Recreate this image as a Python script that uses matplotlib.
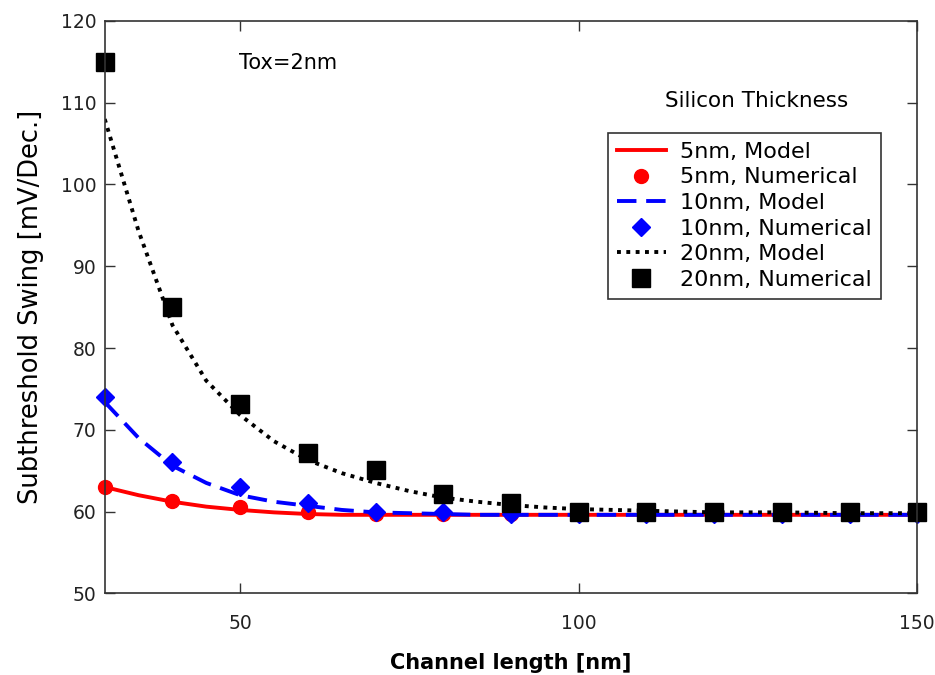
import matplotlib

matplotlib.use("Agg")
import matplotlib.pyplot as plt

plt.rcParams["font.family"] = ["DejaVu Sans"]

# channel length [nm]
L_num = [30, 40, 50, 60, 70, 80, 90, 100, 110, 120, 130, 140, 150]
L_model = [30, 35, 40, 45, 50, 55, 60, 65, 70, 75, 80, 85, 90, 95, 100, 110, 120, 130, 140, 150]

# numerical (markers)
ss_5nm_num = [63.0, 61.3, 60.5, 59.9, 59.7, 59.7, 59.7, 59.7, 59.7, 59.7, 59.7, 59.7, 59.7]
ss_10nm_num = [74.0, 66.1, 63.0, 61.0, 60.0, 59.9, 59.7, 59.7, 59.7, 59.7, 59.7, 59.7, 59.7]
ss_20nm_num = [115.0, 85.0, 73.1, 67.1, 65.1, 62.2, 61.0, 60.0, 60.0, 60.0, 60.0, 60.0, 60.0]

# model (lines)
ss_5nm_model = [63.0, 62.0, 61.2, 60.6, 60.2, 59.9, 59.7, 59.6, 59.6, 59.6, 59.6, 59.6, 59.6,
                59.6, 59.6, 59.6, 59.6, 59.6, 59.6, 59.6]
ss_10nm_model = [73.4, 69.0, 65.6, 63.5, 62.0, 61.2, 60.7, 60.2, 59.9, 59.8, 59.7, 59.6, 59.6,
                 59.6, 59.6, 59.6, 59.6, 59.6, 59.6, 59.6]
ss_20nm_model = [108.0, 94.3, 82.8, 76.0, 71.8, 68.6, 66.3, 64.7, 63.5, 62.5, 61.7, 61.2, 60.8,
                 60.5, 60.3, 60.1, 59.9, 59.9, 59.8, 59.8]

fig = plt.figure(figsize=(9.35, 6.75), dpi=100)
ax = fig.add_axes([0.112, 0.121, 0.869, 0.848])

ax.plot(L_model, ss_5nm_model, "-", color="red", linewidth=2.8, label="5nm, Model")
ax.plot(L_num, ss_5nm_num, "o", color="red", markersize=10, clip_on=False,
        label="5nm, Numerical")
ax.plot(L_model, ss_10nm_model, "--", color="blue", linewidth=2.8, dashes=(5, 2.5),
        label="10nm, Model")
ax.plot(L_num, ss_10nm_num, "D", color="blue", markersize=9.5, clip_on=False,
        label="10nm, Numerical")
ax.plot(L_model, ss_20nm_model, color="black", linewidth=2.8, dashes=(1, 1.4),
        label="20nm, Model")
ax.plot(L_num, ss_20nm_num, "s", color="black", markersize=12.5, clip_on=False,
        label="20nm, Numerical")

ax.set_xlim(30, 150)
ax.set_ylim(50, 120)
ax.set_xticks([50, 100, 150])
ax.set_yticks(range(50, 121, 10))
ax.tick_params(direction="in", length=7, width=1, top=True, right=True,
               labelsize=13.5, color="#333333", labelcolor="#222222")
ax.tick_params(axis="x", pad=15)
ax.tick_params(axis="y", pad=6)
for s in ax.spines.values():
    s.set_linewidth(1.2)
    s.set_color("#333333")

ax.set_xlabel("Channel length [nm]", fontsize=15, fontweight="bold", labelpad=14)
ax.set_ylabel("Subthreshold Swing [mV/Dec.]", fontsize=18.5, labelpad=12)

ax.text(0.165, 0.927, "Tox=2nm", transform=ax.transAxes, fontsize=15, va="center")
ax.text(0.690, 0.860, "Silicon Thickness", transform=ax.transAxes, fontsize=15.5,
        va="center")

leg = ax.legend(loc="upper left", bbox_to_anchor=(0.619, 0.805), fontsize=16,
                frameon=True, fancybox=False, borderpad=0.42, labelspacing=0.25,
                handlelength=2.2, handletextpad=0.65, borderaxespad=0)
leg.get_frame().set_edgecolor("black")
leg.get_frame().set_linewidth(1.2)

plt.savefig("out.png", dpi=100)
plt.close()
